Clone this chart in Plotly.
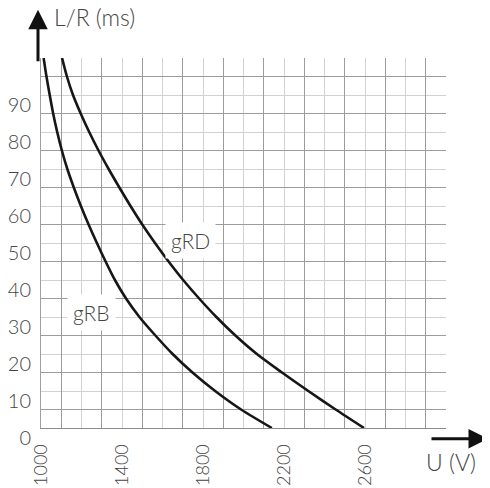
import plotly.graph_objects as go

# ---- data ----
L_values = [100, 95, 90, 85, 80, 75, 70, 65, 60, 55, 50, 45, 40, 35, 30, 25, 20, 15, 10, 5, 0]
U_gRB = [1013, 1027, 1043, 1060, 1080, 1103, 1130, 1162, 1197, 1235, 1276, 1319, 1365,
         1420, 1486, 1565, 1650, 1748, 1860, 1988, 2140]
U_gRD = [1104, 1128, 1158, 1196, 1238, 1284, 1334, 1387, 1442, 1500, 1563, 1630, 1702,
         1781, 1866, 1960, 2066, 2190, 2320, 2455, 2595]

x_label_values = [1000, 1400, 1800, 2200, 2600]
x_grid_light = list(range(1000, 3001, 200))
x_grid_dark = list(range(1100, 3000, 200))
y_label_values = [0, 10, 20, 30, 40, 50, 60, 70, 80, 90]
y_grid_light = list(range(0, 101, 10))
y_grid_dark = list(range(5, 100, 10))

x_ticktext = [str(v) if v in x_label_values else "" for v in x_grid_light]
y_ticktext = [str(v) if v in y_label_values else "" for v in y_grid_light]

FONT = "Lato, 'Open Sans', sans-serif"
TXT = "#454545"
LIGHT = "#d2d2d2"
DARK = "#9c9c9c"
FS = 21


def tf(size=FS):
    return dict(family=FONT, size=size, color=TXT, weight=300)


fig = go.Figure()
fig.add_trace(go.Scatter(x=U_gRB, y=L_values, mode="lines", name="gRB",
                         line=dict(color="#161616", width=2.6, shape="spline", smoothing=0.8),
                         hoverinfo="skip"))
fig.add_trace(go.Scatter(x=U_gRD, y=L_values, mode="lines", name="gRD",
                         line=dict(color="#161616", width=2.6, shape="spline", smoothing=0.8),
                         hoverinfo="skip"))
# helper trace so the overlay axes (darker grid) are drawn
fig.add_trace(go.Scatter(x=[None], y=[None], xaxis="x2", yaxis="y2", mode="lines",
                         showlegend=False, hoverinfo="skip"))

fig.update_layout(
    width=482, height=480,
    margin=dict(l=33, r=44, t=50, b=60, autoexpand=False),
    paper_bgcolor="white", plot_bgcolor="white",
    showlegend=False,
    font=dict(family=FONT, size=FS, color=TXT),
    xaxis=dict(range=[1000, 3000], tickmode="array", tickvals=x_grid_light, ticktext=x_ticktext,
               tickangle=-90, showgrid=True, gridcolor=LIGHT, gridwidth=1, zeroline=False,
               showline=True, linecolor="#8c8c8c", linewidth=1, ticks="",
               tickfont=tf(18), ticklabelstandoff=8, automargin=False),
    xaxis2=dict(range=[1000, 3000], overlaying="x", tickmode="array", tickvals=x_grid_dark,
                showticklabels=False, showgrid=True, gridcolor=DARK, gridwidth=1,
                zeroline=False, showline=False, ticks="", automargin=False),
    yaxis=dict(range=[0, 100], tickmode="array", tickvals=y_grid_light, ticktext=y_ticktext,
               showgrid=True, gridcolor=LIGHT, gridwidth=1, zeroline=False,
               showline=True, linecolor="#a0a0a0", linewidth=1, ticks="",
               tickfont=tf(20), ticklabelshift=10, ticklabelstandoff=5, automargin=False),
    yaxis2=dict(range=[0, 100], overlaying="y", tickmode="array", tickvals=y_grid_dark,
                showticklabels=False, showgrid=True, gridcolor=DARK, gridwidth=1,
                zeroline=False, showline=False, ticks="", automargin=False),
)

annotations = [
    dict(x=1737, y=50.6, xref="x", yref="y", text="gRD", showarrow=False,
         bgcolor="white", borderpad=5, font=tf()),
    dict(x=1248, y=31.1, xref="x", yref="y", text="gRB", showarrow=False,
         bgcolor="white", borderpad=5, font=tf()),
    dict(x=0.026, y=1.1116, xref="paper", yref="paper", text="L/R (ms)", showarrow=False,
         xanchor="left", yanchor="middle", font=tf(23)),
    dict(x=1.012, y=-0.091, xref="paper", yref="paper", text="U (V)", showarrow=False,
         xanchor="center", yanchor="middle", font=tf(23)),
    # axis arrows
    dict(x=-0.0074, y=1.1305, xref="paper", yref="paper", ax=0, ay=53, text="",
         showarrow=True, arrowhead=2, arrowwidth=3, arrowsize=1.3, arrowcolor="#111111"),
    dict(x=1.1037, y=-0.0289, xref="paper", yref="paper", ax=-58, ay=0, text="",
         showarrow=True, arrowhead=2, arrowwidth=3, arrowsize=1.3, arrowcolor="#111111"),
]
fig.update_layout(annotations=annotations)

fig.write_html("out.html")
